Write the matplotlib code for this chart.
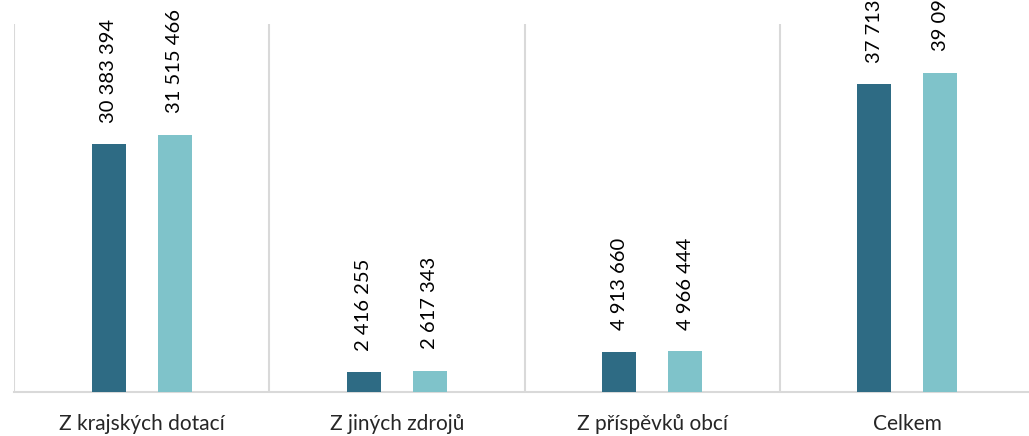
import matplotlib
matplotlib.use("Agg")
import matplotlib.pyplot as plt
import numpy as np

categories = ["Z krajských dotací", "Z jiných zdrojů", "Z příspěvků obcí", "Celkem"]
series_a = [30383394, 2416255, 4913660, 37713309]
series_b = [31515466, 2617343, 4966444, 39099253]
color_a = "#2E6B84"
color_b = "#7FC3CA"

plt.rcParams['font.family'] = ['Lato', 'DejaVu Sans']

fig = plt.figure(figsize=(10.29, 4.36), dpi=100)
ax = fig.add_axes([14/1029, 1-392/436, 1021/1029, (392-24)/436])

x = np.arange(len(categories))
w = 0.133
off = 0.129
ba = ax.bar(x - off, series_a, width=w, color=color_a, zorder=3)
bb = ax.bar(x + off, series_b, width=w, color=color_b, zorder=3)

def fmt(v):
    return f"{v:,}".replace(",", " ")

for bars, vals in ((ba, series_a), (bb, series_b)):
    for r, v in zip(bars, vals):
        ax.annotate(fmt(v), (r.get_x() + r.get_width()/2, v), xytext=(0, 15.5),
                    textcoords="offset points", rotation=90, ha="center", va="bottom",
                    fontsize=14.5, color="#000000", annotation_clip=False)

ax.set_xlim(-0.5, 3.5)
ax.set_ylim(0, 45.1e6)
ax.set_yticks([])
ax.set_xticks(x)
ax.set_xticklabels(categories, fontsize=15, color="#262626")
ax.tick_params(axis="x", length=0, pad=16)
ax.set_xticks(np.arange(-0.5, 4, 1), minor=True)
ax.tick_params(axis="x", which="minor", length=0)
ax.grid(axis="x", which="minor", color="#D9D9D9", linewidth=1.5, zorder=0)
for s in ("top", "right", "left"):
    ax.spines[s].set_visible(False)
ax.spines["bottom"].set_color("#D9D9D9")
ax.spines["bottom"].set_linewidth(1.5)

fig.savefig("out.png", dpi=100)
